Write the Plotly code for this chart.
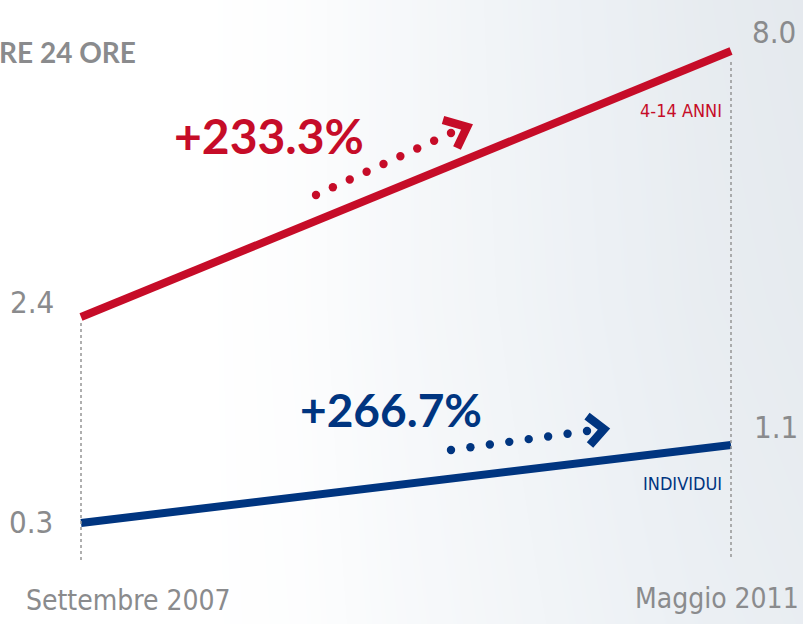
import plotly.graph_objects as go

# ---------------- data ----------------
periods = ["Settembre 2007", "Maggio 2011"]
kids_values = [2.4, 8.0]        # 4-14 ANNI
all_values = [0.3, 1.1]         # INDIVIDUI
series_names = ["4-14 ANNI", "INDIVIDUI"]
header_text = "RE 24 ORE"

W, H = 803, 624
RED = "#c60c28"
BLUE = "#003580"
GRAY = "#8a8b8d"
NARROW = "DejaVu Sans Condensed, Liberation Sans Narrow, sans-serif"
BOLD = "Lato, Open Sans, sans-serif"


def px(x):
    return x / W


def py(y):
    return 1 - y / H


xpos = [0, 1]

# axis ranges chosen so that each series sits where the original places it
x0p, x1p = 81, 731
xs = (x1p - x0p) / (xpos[1] - xpos[0])
xrange = [-x0p / xs, 1 + (W - x1p) / xs]

r0p, r1p = 317, 51
rs = (r0p - r1p) / (kids_values[1] - kids_values[0])
yrange = [kids_values[0] - (H - r0p) / rs, kids_values[1] + r1p / rs]

b0p, b1p = 523, 445
bs = (b0p - b1p) / (all_values[1] - all_values[0])
y2range = [all_values[0] - (H - b0p) / bs, all_values[1] + b1p / bs]


def dx(p):  # pixel x -> data x
    return (p - x0p) / xs


def dy(p):  # pixel y -> red-axis data y
    return kids_values[0] + (r0p - p) / rs


fig = go.Figure()

# background gradient (decorative), drawn in the base subplot
bg_px = [0, 200, 300, 400, 500, 600, 700, 803]
bg_py = [0, 300, 624]
bg_z = [
    [0.0, 0.0, 0.08, 0.25, 0.4, 0.55, 0.7, 0.8],
    [0.0, 0.0, 0.08, 0.25, 0.38, 0.52, 0.66, 0.74],
    [0.0, 0.0, 0.06, 0.2, 0.32, 0.44, 0.56, 0.64],
]
fig.add_trace(go.Heatmap(
    x=[dx(p) for p in bg_px], y=[dy(p) for p in bg_py], z=bg_z,
    zsmooth="best", showscale=False,
    colorscale=[[0, "#ffffff"], [0.5, "#edf1f5"], [1, "#dfe4e9"]],
    zmin=0, zmax=1, hoverinfo="skip", xaxis="x", yaxis="y",
))

fig.add_trace(go.Scatter(
    x=xpos, y=kids_values, mode="lines", name=series_names[0],
    line=dict(color=RED, width=8), yaxis="y", hoverinfo="skip",
))
fig.add_trace(go.Scatter(
    x=xpos, y=all_values, mode="lines", name=series_names[1],
    line=dict(color=BLUE, width=8), yaxis="y2", hoverinfo="skip",
))

hidden = dict(visible=False, showgrid=False, zeroline=False, fixedrange=True)
fig.update_layout(
    width=W, height=H,
    margin=dict(l=0, r=0, t=0, b=0),
    paper_bgcolor="white", plot_bgcolor="white",
    showlegend=False,
    xaxis=dict(range=xrange, **hidden),
    yaxis=dict(range=yrange, **hidden),
    yaxis2=dict(range=y2range, overlaying="y", **hidden),
)

shapes = []
# dotted guide lines
shapes.append(dict(type="line", xref="x", yref="paper", x0=0, x1=0,
                   y0=py(323), y1=py(562), layer="above",
                   line=dict(color="#959595", width=1.5, dash="dot")))
shapes.append(dict(type="line", xref="x", yref="paper", x0=1, x1=1,
                   y0=py(62), y1=py(557), layer="above",
                   line=dict(color="#959595", width=1.5, dash="dot")))


def dotted_arrow(start, end, n, chevron, color, r=4.2):
    (sx, sy), (ex, ey) = start, end
    for i in range(n):
        t = i / (n - 1)
        cx = sx + (ex - sx) * t
        cy = sy + (ey - sy) * t
        shapes.append(dict(type="circle", xref="paper", yref="paper",
                           x0=px(cx - r), x1=px(cx + r),
                           y0=py(cy + r), y1=py(cy - r),
                           fillcolor=color, line=dict(width=0)))
    pts = " L ".join(f"{px(a):.5f},{py(b):.5f}" for a, b in chevron)
    shapes.append(dict(type="path", xref="paper", yref="paper",
                       path="M " + pts, line=dict(color=color, width=8.5)))


dotted_arrow((316, 195), (451, 133), 9, [(443, 120), (467, 127), (457, 148)], RED)
dotted_arrow((451, 450), (587, 431), 8, [(587, 416), (604, 429), (590, 445)], BLUE)

fig.update_layout(shapes=shapes)

VAL = dict(family=NARROW, size=31, color=GRAY)
ann = []
# value labels
ann.append(dict(x=0, y=kids_values[0], xref="x", yref="y", text=f"{kids_values[0]:.1f}",
                xanchor="right", yanchor="middle", xshift=-25, yshift=15,
                font=VAL, showarrow=False))
ann.append(dict(x=1, y=kids_values[1], xref="x", yref="y", text=f"{kids_values[1]:.1f}",
                xanchor="left", yanchor="middle", xshift=19, yshift=19,
                font=VAL, showarrow=False))
ann.append(dict(x=0, y=all_values[0], xref="x", yref="y2", text=f"{all_values[0]:.1f}",
                xanchor="right", yanchor="middle", xshift=-26, yshift=1,
                font=VAL, showarrow=False))
ann.append(dict(x=1, y=all_values[1], xref="x", yref="y2", text=f"{all_values[1]:.1f}",
                xanchor="left", yanchor="middle", xshift=21, yshift=18,
                font=VAL, showarrow=False))
# series names
ann.append(dict(x=1, y=kids_values[1], xref="x", yref="y", text=series_names[0],
                xanchor="right", yanchor="middle", xshift=-7, yshift=-59,
                font=dict(family=NARROW, size=18, color=RED), showarrow=False))
ann.append(dict(x=1, y=all_values[1], xref="x", yref="y2", text=series_names[1],
                xanchor="right", yanchor="middle", xshift=-7, yshift=-38,
                font=dict(family=NARROW, size=18, color=BLUE), showarrow=False))
# period labels
ann.append(dict(x=0, y=py(600), xref="x", yref="paper", text=periods[0],
                xanchor="left", yanchor="middle", xshift=24 - x0p,
                font=dict(family=NARROW, size=28, color=GRAY), showarrow=False))
ann.append(dict(x=1, y=py(598), xref="x", yref="paper", text=periods[1],
                xanchor="right", yanchor="middle", xshift=801 - x1p,
                font=dict(family=NARROW, size=28, color=GRAY), showarrow=False))
# percentage changes
pk = (kids_values[1] - kids_values[0]) / kids_values[0] * 100
pa = (all_values[1] - all_values[0]) / all_values[0] * 100
ann.append(dict(x=px(269), y=py(135), xref="paper", yref="paper", text=f"<b>+{pk:.1f}%</b>",
                xanchor="center", yanchor="middle",
                font=dict(family=BOLD, size=48, color=RED), showarrow=False))
ann.append(dict(x=px(391), y=py(409), xref="paper", yref="paper", text=f"<b>+{pa:.1f}%</b>",
                xanchor="center", yanchor="middle",
                font=dict(family=BOLD, size=46, color=BLUE), showarrow=False))
# header fragment
ann.append(dict(x=px(138), y=py(52), xref="paper", yref="paper", text=f"<b>{header_text}</b>",
                xanchor="right", yanchor="middle",
                font=dict(family=BOLD, size=28, color=GRAY, weight=900), showarrow=False))

fig.update_layout(annotations=ann)

fig.write_html("out.html")
